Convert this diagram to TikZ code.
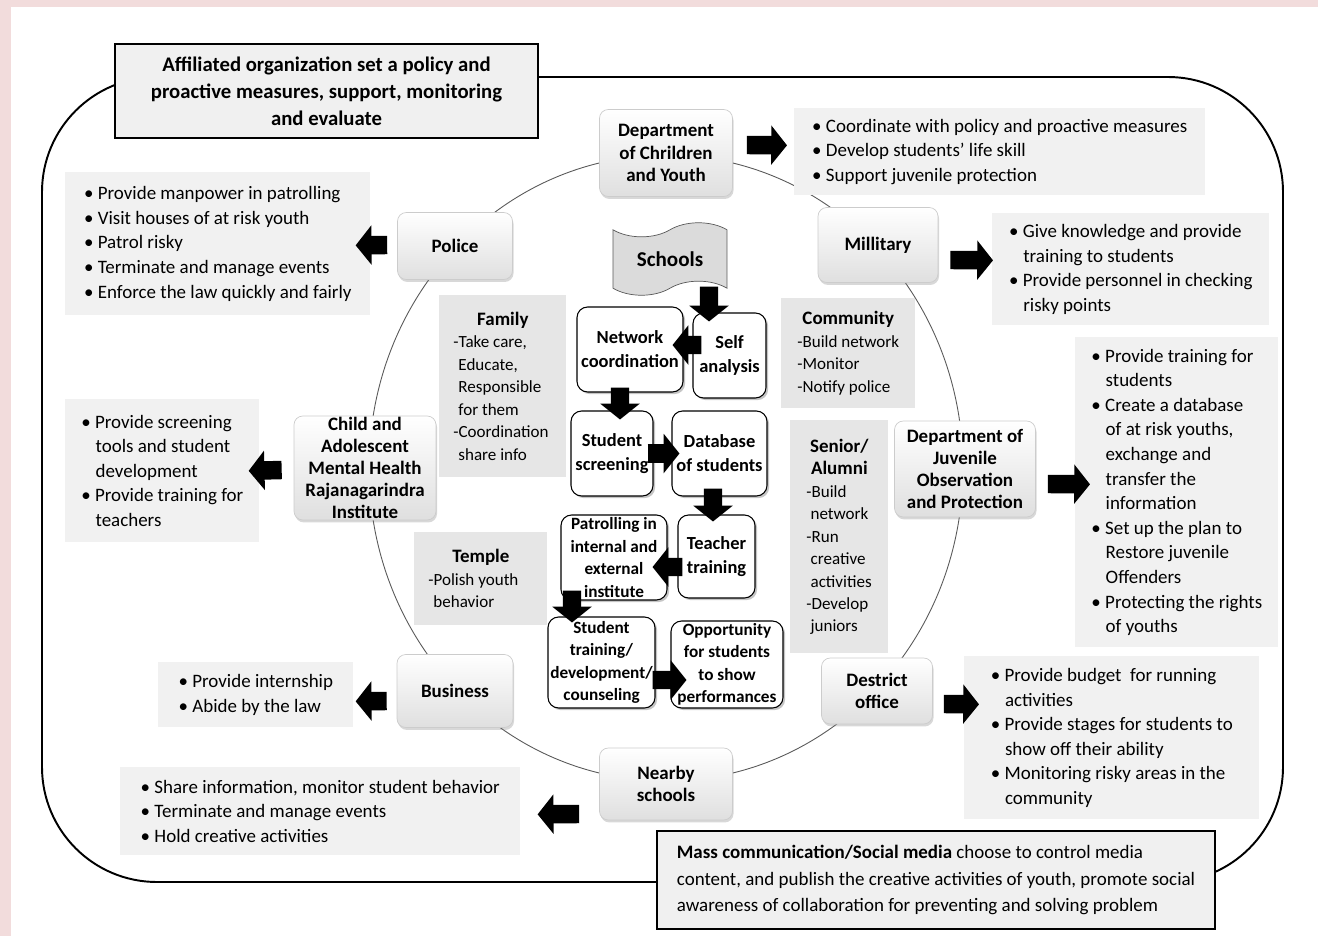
\documentclass[tikz,border=0pt]{standalone}
\usepackage{fontspec}
\setmainfont{Carlito}
\usetikzlibrary{calc,shapes.symbols,shadows,arrows.meta}
\definecolor{bgpink}{HTML}{F2DCDC}
\definecolor{dutygray}{HTML}{F1F1F1}
\definecolor{infogray}{HTML}{E6E6E6}
\newcommand{\bul}{\textbullet\ }
\newcommand{\bulind}{\hspace*{0.75em}}
\newcommand{\infohead}[2]{\makebox[#1][c]{\fontsize{10.8}{13}\selectfont\bfseries #2}}
\tikzset{
  agency/.style={rounded corners=5pt, draw=gray!40, top color=white, bottom color=gray!25,
    drop shadow={opacity=0.3, shadow xshift=0.6pt, shadow yshift=-1.4pt},
    align=center, inner sep=0pt, font=\fontsize{10.8}{12.6}\selectfont\bfseries},
  duty/.style={fill=dutygray, anchor=north west, align=left, inner sep=0pt, font=\fontsize{10.8}{14}\selectfont},
  info/.style={fill=infogray, anchor=north west, align=left, inner sep=0pt, font=\fontsize{9.7}{12.8}\selectfont},
  flow/.style={draw, line width=0.6pt, rounded corners=6pt, fill=white,
    drop shadow={opacity=0.45, shadow xshift=1.2pt, shadow yshift=-1.2pt},
    align=center, inner sep=0pt, font=\fontsize{10.5}{13.6}\selectfont\bfseries},
  flowsmall/.style={font=\fontsize{9.8}{12.8}\selectfont\bfseries},
  topbox/.style={draw, line width=1.2pt, fill=gray!12, inner sep=0pt},
  blk/.style={line width=10.5pt, -{Triangle[length=9pt, width=22pt]}},
}
\begin{document}
\begin{tikzpicture}[x=0.02cm, y=-0.02cm]
      \useasboundingbox (0,0) rectangle (1318,936);
      \fill[bgpink] (0,0) rectangle (1318,936);
      \fill[white] (11,7) rectangle (1318,936);
      % Outer frame and ring
      \draw[line width=1.1pt, rounded corners=2.3cm] (42,77) rectangle (1283,882);
      \draw[gray!70!black, line width=0.5pt] (666,468) ellipse [x radius=5.94cm, y radius=6.26cm];
      \node[topbox, minimum width=8.46cm, minimum height=1.88cm, align=center,
        font=\fontsize{11.8}{15.4}\selectfont\bfseries] (aff) at (326.5,91)
        {Affiliated organization set a policy and\\proactive measures, support, monitoring\\and evaluate};
      \node[topbox, minimum width=11.16cm, minimum height=1.96cm, align=left,
        font=\fontsize{10.8}{15.1}\selectfont] (mass) at (936,880)
        {\textbf{Mass communication/Social media} choose to control media\\content, and publish the creative activities of youth, promote social\\awareness of collaboration for preventing and solving problem};
      % Agencies on the ring
      \node[agency, minimum width=2.66cm, minimum height=1.74cm] (dcy) at (666,153) {Department\\of Chrildren\\and Youth};
      \node[agency, minimum width=2.3cm, minimum height=1.34cm] (police) at (455,246) {Police};
      \node[agency, minimum width=2.4cm, minimum height=1.5cm] (military) at (878,245) {Millitary};
      \node[agency, minimum width=2.84cm, minimum height=2.08cm] (camh) at (365,468) {Child and\\Adolescent\\Mental Health\\Rajanagarindra\\Institute};
      \node[agency, minimum width=2.82cm, minimum height=1.92cm] (djop) at (965,469) {Department of\\Juvenile\\Observation\\and Protection};
      \node[agency, minimum width=2.32cm, minimum height=1.46cm] (business) at (455,691) {Business};
      \node[agency, minimum width=2.22cm, minimum height=1.32cm] (district) at (877,691) {Destrict\\office};
      \node[agency, minimum width=2.66cm, minimum height=1.44cm] (nearby) at (666,784) {Nearby\\schools};
      % Duties
      \node[duty, minimum width=8.22cm, minimum height=1.74cm] (dcyduty) at (794,108)
        {\bul Coordinate with policy and proactive measures\\\bul Develop students’ life skill\\\bul Support juvenile protection};
      \node[duty, minimum width=5.54cm, minimum height=2.24cm] (milduty) at (992,213)
        {\bul Give knowledge and provide\\\bulind training to students\\\bul Provide personnel in checking\\\bulind risky points};
      \node[duty, minimum width=6.1cm, minimum height=2.86cm] (polduty) at (65,172)
        {\bul Provide manpower in patrolling\\\bul Visit houses of at risk youth\\\bul Patrol risky\\\bul Terminate and manage events\\\bul Enforce the law quickly and fairly};
      \node[duty, minimum width=3.88cm, minimum height=2.86cm] (camhduty) at (65,399)
        {\bul Provide screening\\\bulind tools and student\\\bulind development\\\bul Provide training for\\\bulind teachers};
      \node[duty, minimum width=4.06cm, minimum height=6.2cm] (djopduty) at (1075,337)
        {\bul Provide training for\\\bulind students\\\bul Create a database\\\bulind of at risk youths,\\\bulind exchange and\\\bulind transfer the\\\bulind information\\\bul Set up the plan to\\\bulind Restore juvenile\\\bulind Offenders\\\bul Protecting the rights\\\bulind of youths};
      \node[duty, minimum width=3.9cm, minimum height=1.3cm] (busduty) at (158,662)
        {\bul Provide internship\\\bul Abide by the law};
      \node[duty, minimum width=5.9cm, minimum height=3.26cm] (disduty) at (964,656)
        {\bul Provide budget\ \ for running\\\bulind activities\\\bul Provide stages for students to\\\bulind show off their ability\\\bul Monitoring risky areas in the\\\bulind community};
      \node[duty, minimum width=8cm, minimum height=1.76cm] (nearduty) at (120,767)
        {\bul Share information, monitor student behavior\\\bul Terminate and manage events\\\bul Hold creative activities};
      % Partners inside the ring
      \node[info, minimum width=2.54cm, minimum height=3.64cm] (family) at (439,295)
        {\infohead{1.98cm}{Family}\\-Take care,\\\hspace*{0.3em}Educate,\\\hspace*{0.3em}Responsible\\\hspace*{0.3em}for them\\-Coordination\\\hspace*{0.3em}share info};
      \node[info, minimum width=2.66cm, minimum height=1.86cm] (temple) at (414,532)
        {\infohead{2.1cm}{Temple}\\-Polish youth\\\hspace*{0.3em}behavior};
      \node[info, minimum width=2.68cm, minimum height=2.2cm] (community) at (781,298)
        {\infohead{2.04cm}{Community}\\-Build network\\-Monitor\\-Notify police};
      \node[info, minimum width=1.96cm, minimum height=4.66cm] (senior) at (790,420)
        {\infohead{1.32cm}{Senior/}\\\infohead{1.32cm}{Alumni}\\-Build\\\hspace*{0.25em}network\\-Run\\\hspace*{0.25em}creative\\\hspace*{0.25em}activities\\-Develop\\\hspace*{0.25em}juniors};
      % School process
      \node[tape, draw=gray!70!black, fill=gray!28, minimum width=2.28cm, minimum height=1.45cm,
        tape bend height=8pt, font=\fontsize{12}{14}\selectfont\bfseries] (schools) at (670,259) {Schools};
      \node[flow, minimum width=2.12cm, minimum height=1.7cm] (netco) at (630,349.5) {Network\\coordination};
      \node[flow, minimum width=1.46cm, minimum height=1.7cm] (self) at (729.5,355.5) {Self\\analysis};
      \node[flow, minimum width=1.64cm, minimum height=1.7cm] (screen) at (612,453.5) {Student\\screening};
      \node[flow, minimum width=1.9cm, minimum height=1.7cm] (dbase) at (719.5,453.5) {Database\\of students};
      \node[flow, flowsmall, minimum width=2.12cm, minimum height=1.7cm] (patrol) at (614,557.5) {Patrolling in\\internal and\\external\\institute};
      \node[flow, minimum width=1.54cm, minimum height=1.66cm] (teacher) at (716.5,556.5) {Teacher\\training};
      \node[flow, flowsmall, minimum width=2.14cm, minimum height=1.82cm] (sttrain) at (601.5,662.5) {Student\\training/\\development/\\counseling};
      \node[flow, flowsmall, minimum width=2.24cm, minimum height=1.74cm] (oppo) at (727,664.5) {Opportunity\\for students\\to show\\performances};
      % Block arrows
      \draw[blk] ($(schools.south)+(0.78cm,0.04cm)$) -- ($(self.north)+(-0.41cm,-0.18cm)$);
      \draw[blk] ($(self.west)+(0.18cm,0.21cm)$) -- ($(netco.east)+(-0.22cm,0.09cm)$);
      \draw[blk] ($(netco.south)+(-0.2cm,0.1cm)$) -- ($(screen.north)+(0.16cm,-0.18cm)$);
      \draw[blk] ($(screen.east)+(-0.12cm,0)$) -- ($(dbase.west)+(0.16cm,0)$);
      \draw[blk] ($(dbase.south)+(-0.13cm,0.16cm)$) -- ($(teacher.north)+(-0.07cm,-0.14cm)$);
      \draw[blk] ($(teacher.west)+(0.1cm,-0.21cm)$) -- ($(patrol.east)+(-0.3cm,-0.19cm)$);
      \draw[blk] ($(patrol.south)+(-0.84cm,0.2cm)$) -- ($(sttrain.north)+(-0.59cm,-0.12cm)$);
      \draw[blk] ($(sttrain.east)+(-0.06cm,-0.35cm)$) -- ($(oppo.west)+(0.32cm,-0.31cm)$);
      \draw[blk] ($(dcy.east)+(0.28cm,0.16cm)$) -- ($(dcyduty.west)+(-0.14cm,0.13cm)$);
      \draw[blk] ($(police.west)+(-0.2cm,0.02cm)$) -- ($(polduty.east)+(-0.3cm,-0.03cm)$);
      \draw[blk] ($(military.east)+(0.24cm,-0.3cm)$) -- ($(milduty.west)+(0.02cm,0.18cm)$);
      \draw[blk] ($(camh.west)+(-0.24cm,-0.04cm)$) -- ($(camhduty.east)+(-0.22cm,0)$);
      \draw[blk] ($(djop.east)+(0.24cm,-0.3cm)$) -- ($(djopduty.west)+(0.3cm,0.16cm)$);
      \draw[blk] ($(business.west)+(-0.2cm,-0.2cm)$) -- ($(busduty.east)+(0.04cm,-0.13cm)$);
      \draw[blk] ($(district.east)+(0.22cm,-0.26cm)$) -- ($(disduty.west)+(0.3cm,0.67cm)$);
      \draw[blk] ($(nearby.west)+(-0.4cm,-0.6cm)$) -- ($(nearduty.east)+(0.34cm,-0.06cm)$);
    \end{tikzpicture}
\end{document}
